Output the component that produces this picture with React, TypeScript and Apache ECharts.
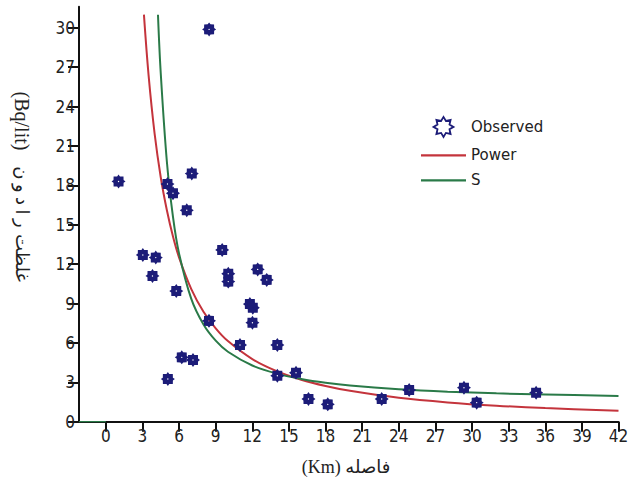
import React, { useEffect, useRef } from "react";
import * as echarts from "echarts";

// Observed points (distance km, radon Bq/lit)
const obsX = [1.04, 7.04, 5.05, 5.5, 6.63, 3.03, 4.09, 3.82, 5.77, 8.45, 6.22, 7.14, 5.08, 9.53, 10.03, 10.03, 12.44, 13.18, 11.8, 12.04, 12.01, 10.99, 14.05, 14.05, 15.58, 16.6, 18.18, 22.6, 24.85, 29.34, 30.38, 35.25, 8.46];
const obsY = [18.3, 18.9, 18.1, 17.4, 16.1, 12.7, 12.5, 11.1, 9.95, 7.68, 4.9, 4.7, 3.25, 13.08, 11.27, 10.67, 11.6, 10.8, 8.96, 8.68, 7.54, 5.84, 5.84, 3.5, 3.73, 1.73, 1.32, 1.73, 2.41, 2.59, 1.45, 2.21, 29.88];

// Power curve
const powerX = [3.12, 3.5, 4, 4.5, 5, 5.5, 6, 7, 8, 9, 10, 12, 14, 16, 18, 20, 24, 28, 32, 36, 42];
const powerY = [31.0, 26.4, 21.9, 18.6, 16.1, 14.1, 12.5, 10.1, 8.37, 7.11, 6.14, 4.77, 3.85, 3.2, 2.72, 2.35, 1.82, 1.47, 1.22, 1.04, 0.84];

// S curve
const sX = [4.27, 4.5, 5, 5.5, 6, 7, 8, 9, 10, 12, 14, 16, 18, 20, 24, 28, 32, 36, 42];
const sY = [31.0, 26.5, 19.8, 15.6, 12.8, 9.35, 7.4, 6.17, 5.33, 4.28, 3.66, 3.26, 2.97, 2.76, 2.48, 2.29, 2.16, 2.07, 1.96];
const sLowX = [-2.2, 0];
const sLowY = [0, 0];

const xTicks = [0, 3, 6, 9, 12, 15, 18, 21, 24, 27, 30, 33, 36, 39, 42];
const yTicks = [0, 3, 6, 9, 12, 15, 18, 21, 24, 27, 30];

const STAR =
  "path://M100 50 L86 60 L85.36 85.36 L60 86 L50 100 L40 86 L14.64 85.36 L14 60 L0 50 L14 40 L14.64 14.64 L40 14 L50 0 L60 14 L85.36 14.64 L86 40 Z M55 50 A5 5 0 1 0 45 50 A5 5 0 1 0 55 50 Z";
const LEGEND_STAR =
  "path://M100 50 L80 62 L85.36 85.36 L62 80 L50 100 L38 80 L14.64 85.36 L20 62 L0 50 L20 38 L14.64 14.64 L38 20 L50 0 L62 20 L85.36 14.64 L80 38 Z";
const LINE_ICON = "path://M0 0 L45 0 L45 2.2 L0 2.2 Z";

const NAVY = "#1c1c78";
const RED = "#c4343c";
const GREEN = "#2a7a48";
const TICK_FONT = "'DejaVu Sans Condensed', 'Liberation Sans Narrow', 'Liberation Sans', sans-serif";
const TITLE_FONT = "'Liberation Serif', 'DejaVu Sans', serif";

export default function App() {
  const ref = useRef<HTMLDivElement>(null);
  useEffect(() => {
    if (!ref.current) return;
    const chart = echarts.init(ref.current, null, { renderer: "svg" });
    const zip = (xs: number[], ys: number[]) => xs.map((x, i) => [x, ys[i]]);
    const vText = (text: string, y: number, size: number) => ({
      type: "text",
      x: 22,
      y,
      rotation: -Math.PI / 2,
      style: {
        text,
        fontSize: size,
        fontFamily: TITLE_FONT,
        fill: "#222",
        align: "center",
        verticalAlign: "middle",
      },
    });
    chart.setOption({
      animation: false,
      backgroundColor: "#ffffff",
      grid: { left: 79, right: 16.5, top: 6.8, bottom: 55.3, containLabel: false },
      xAxis: {
        type: "value",
        min: -2.2,
        max: 42,
        splitLine: { show: false },
        axisLine: { onZero: false, lineStyle: { color: "#111", width: 2 } },
        axisTick: { customValues: xTicks, length: 10, lineStyle: { color: "#111", width: 2 } },
        axisLabel: {
          customValues: xTicks,
          margin: 6,
          color: "#222",
          fontSize: 17,
          fontFamily: TICK_FONT,
        },
      },
      yAxis: {
        type: "value",
        min: 0,
        max: 31.6,
        splitLine: { show: false },
        axisLine: { onZero: false, lineStyle: { color: "#111", width: 2 } },
        axisTick: { customValues: yTicks, length: 11, lineStyle: { color: "#111", width: 2 } },
        axisLabel: {
          customValues: yTicks,
          margin: 4,
          color: "#222",
          fontSize: 17,
          fontFamily: TICK_FONT,
        },
      },
      legend: {
        orient: "vertical",
        left: 416,
        top: 111,
        itemWidth: 45,
        itemHeight: 20,
        itemGap: 10,
        textStyle: { fontFamily: "'DejaVu Sans', sans-serif", fontSize: 15, color: "#222" },
        data: [
          { name: "Observed", icon: LEGEND_STAR, itemStyle: { color: "rgba(0,0,0,0)", borderColor: NAVY, borderWidth: 1.8, opacity: 1 } },
          { name: "Power", icon: LINE_ICON, itemStyle: { color: RED } },
          { name: "S", icon: LINE_ICON, itemStyle: { color: GREEN } },
        ],
      },
      graphic: [
        vText("(Bq/lit)", 121, 20),
        vText("\u202Dن و د ا ر\u202C", 197, 18),
        vText("غلظت", 258, 18),
        {
          type: "text",
          x: 346,
          y: 467,
          style: {
            text: "(Km) فاصله",
            fontSize: 18,
            fontFamily: TITLE_FONT,
            fill: "#222",
            align: "center",
            verticalAlign: "middle",
          },
        },
      ],
      series: [
        {
          name: "Power",
          type: "line",
          data: zip(powerX, powerY),
          symbol: "none",
          smooth: 0.35,
          lineStyle: { color: RED, width: 2 },
          itemStyle: { color: RED },
          z: 3,
        },
        {
          name: "S",
          type: "line",
          data: zip(sX, sY),
          symbol: "none",
          smooth: 0.35,
          lineStyle: { color: GREEN, width: 2 },
          itemStyle: { color: GREEN },
          z: 3,
        },
        {
          name: "S-low",
          type: "line",
          data: zip(sLowX, sLowY),
          symbol: "none",
          lineStyle: { color: GREEN, width: 1.5 },
          z: 3,
        },
        {
          name: "Observed",
          type: "scatter",
          data: zip(obsX, obsY),
          symbol: STAR,
          symbolSize: 14,
          itemStyle: { color: NAVY, opacity: 1 },
          z: 4,
        },
      ],
    });
    return () => chart.dispose();
  }, []);
  return (
    <div
      ref={ref}
      style={{ position: "fixed", left: 0, top: 0, width: 635, height: 477 }}
    />
  );
}
